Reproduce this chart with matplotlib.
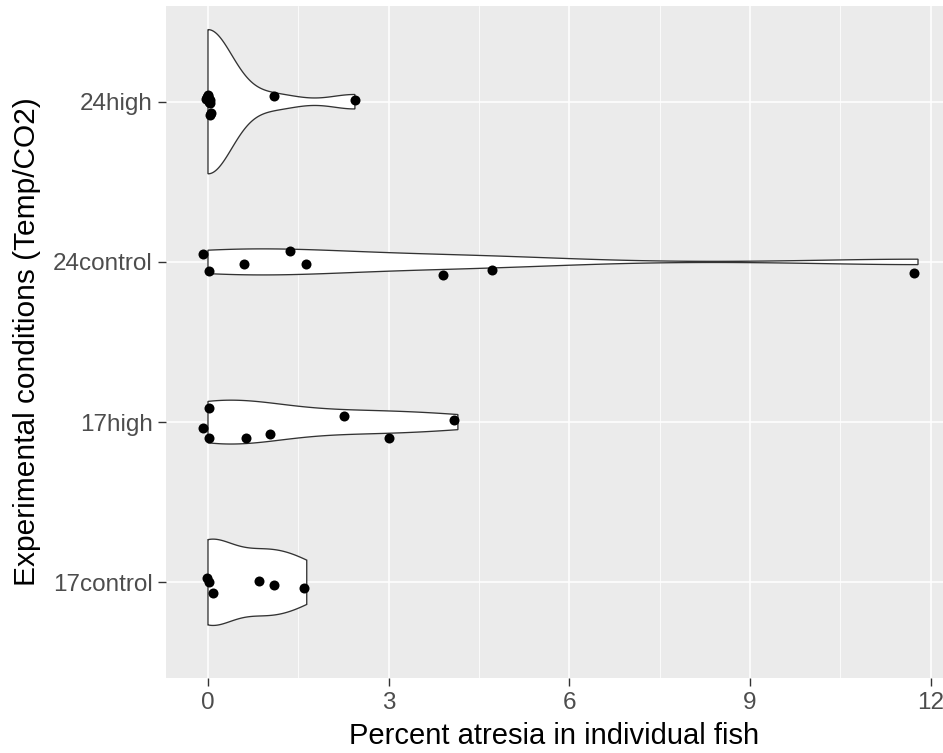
import numpy as np
import matplotlib
matplotlib.use("Agg")
import matplotlib.pyplot as plt
from matplotlib.ticker import MultipleLocator

# ---- data ----
categories = ["17control", "17high", "24control", "24high"]

vals_17control = [0, 0, 0, 0.85, 1.09, 1.64]
jx_17control = [-0.02, 0.02, 0.08, 0.0, 0.0, -0.045]
jy_17control = [0.025, 0.0, -0.069, 0.008, -0.017, -0.037]

vals_17high = [0, 0, 0, 0.63, 1.03, 2.26, 3.0, 4.15]
jx_17high = [0.02, -0.09, 0.02, 0.0, 0.0, 0.0, 0.0, -0.07]
jy_17high = [0.089, -0.037, -0.099, -0.099, -0.074, 0.041, -0.099, 0.016]

vals_24control = [0, 0, 0.59, 1.36, 1.62, 3.91, 4.72, 11.79]
jx_24control = [-0.09, 0.02, 0.0, 0.0, 0.0, 0.0, 0.0, -0.07]
jy_24control = [0.052, -0.058, -0.01, 0.066, -0.01, -0.083, -0.052, -0.072]

vals_24high = [0, 0, 0, 0, 0, 0, 0, 0, 0, 0, 1.10, 2.44]
jx_24high = [-0.03, 0.0, 0.03, 0.04, -0.02, 0.01, 0.0, 0.02, 0.04, 0.05, 0.0, 0.0]
jy_24high = [0.02, 0.04, 0.01, -0.01, 0.03, 0.0, 0.035, 0.015, -0.08, -0.07, 0.036, 0.011]

xticks = [0, 3, 6, 9, 12]
xlabel = "Percent atresia in individual fish"
ylabel = "Experimental conditions (Temp/CO2)"

groups = {
    "17control": (vals_17control, jx_17control, jy_17control),
    "17high": (vals_17high, jx_17high, jy_17high),
    "24control": (vals_24control, jx_24control, jy_24control),
    "24high": (vals_24high, jx_24high, jy_24high),
}


def bw_nrd0(x):
    x = np.asarray(x, float)
    hi = np.std(x, ddof=1)
    q75, q25 = np.percentile(x, [75, 25])
    lo = min(hi, (q75 - q25) / 1.34)
    if not lo:
        lo = hi or abs(x[0]) or 1.0
    return 0.9 * lo * len(x) ** -0.2


def kde(x, grid):
    x = np.asarray(x, float)
    bw = bw_nrd0(x)
    z = (grid[:, None] - x[None, :]) / bw
    return np.exp(-0.5 * z ** 2).sum(axis=1) / (len(x) * bw * np.sqrt(2 * np.pi))


dens = {}
for name in categories:
    v = groups[name][0]
    g = np.linspace(min(v), max(v), 512)
    dens[name] = (g, kde(v, g))
dmax = max(d.max() for _, d in dens.values())

plt.rcParams["font.family"] = ["Liberation Sans", "DejaVu Sans"]
fig = plt.figure(figsize=(9.43, 7.53), dpi=100)
ax = fig.add_axes([166 / 943, (753 - 678.4) / 753, (943 - 166) / 943, (678.4 - 5.6) / 753])
ax.set_facecolor("#EBEBEB")

for i, name in enumerate(categories, start=1):
    g, d = dens[name]
    w = 0.45 * d / dmax
    xs = np.concatenate([g, g[::-1]])
    ys = np.concatenate([i + w, (i - w)[::-1]])
    ax.fill(xs, ys, facecolor="white", edgecolor="#333333", linewidth=0.95, zorder=3)
    v, jx, jy = groups[name]
    px = np.asarray(v) + np.asarray(jx)
    py = i + np.asarray(jy)
    ax.scatter(px, py, s=52, color="black", zorder=4, linewidths=0)

ax.set_xlim(-0.697, 12.205)
ax.set_ylim(0.4, 4.6)
ax.set_xticks(xticks)
ax.xaxis.set_minor_locator(MultipleLocator(1.5))
ax.set_yticks(range(1, len(categories) + 1))
ax.set_yticklabels(categories)
ax.grid(which="major", color="white", linewidth=1.1, zorder=0)
ax.grid(which="minor", axis="x", color="white", linewidth=0.55, zorder=0)
ax.set_axisbelow(True)
for s in ax.spines.values():
    s.set_visible(False)
ax.tick_params(axis="both", which="major", length=5.5, width=1.0, color="#333333",
               labelcolor="#4D4D4D", labelsize=17.5, pad=4)
ax.tick_params(axis="both", which="minor", length=0)
ax.set_xlabel(xlabel, fontsize=21, color="black", labelpad=6)
ax.set_ylabel(ylabel, fontsize=21.5, color="black", labelpad=9)

fig.savefig("out.png", dpi=100)
